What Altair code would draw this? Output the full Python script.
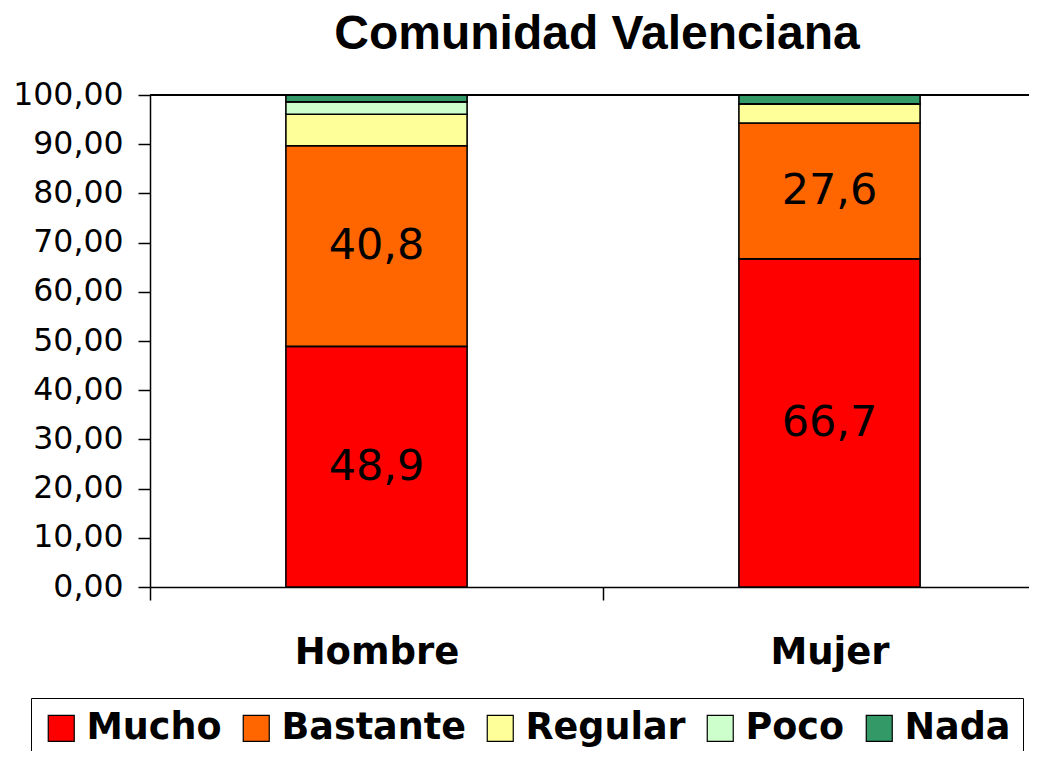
import altair as alt
import pandas as pd

sexo = ["Hombre", "Mujer"]
categorias = ["Mucho", "Bastante", "Regular", "Poco", "Nada"]
colores = ["#FF0000", "#FF6600", "#FFFF99", "#CCFFCC", "#339966"]
mucho = [48.9, 66.7]
bastante = [40.8, 27.6]
regular = [6.4, 3.9]
poco = [2.5, 0.0]
nada = [1.4, 1.8]
etiquetadas = ["Mucho", "Bastante"]
y_ticks = [0, 10, 20, 30, 40, 50, 60, 70, 80, 90, 100]
titulo = "Comunidad Valenciana"

series = [mucho, bastante, regular, poco, nada]
rows = []
for ci, (cat, vals) in enumerate(zip(categorias, series)):
    for si, s in enumerate(sexo):
        rows.append({"sexo": s, "cat": cat, "idx": ci, "value": vals[si]})
df = pd.DataFrame(rows)

xscale = alt.Scale(paddingInner=0, paddingOuter=0, round=False)
x = alt.X("sexo:N", sort=sexo, scale=xscale,
          axis=alt.Axis(title=None, labelAngle=0, tickBand="extent",
                        labelFont="DejaVu Sans", labelFontSize=37, labelFontWeight="bold",
                        labelColor="black", labelPadding=34, tickSize=13,
                        tickColor="black", tickWidth=1.5,
                        domainColor="black", domainWidth=1.5))

base = alt.Chart(df)

bars = base.mark_bar(stroke="black", strokeWidth=1.6,
                     width=alt.RelativeBandSize(0.4)).encode(
    x=x,
    y=alt.Y("value:Q", stack="zero",
            scale=alt.Scale(domain=[0, 100], nice=False),
            axis=alt.Axis(title=None, values=y_ticks, grid=False,
                          labelExpr="replace(format(datum.value, '.2f'), '.', ',')",
                          labelFont="DejaVu Sans", labelFontSize=31.5, labelColor="black",
                          labelPadding=15, tickSize=12, tickColor="black", tickWidth=1.5,
                          domainColor="black", domainWidth=1.5)),
    color=alt.Color("cat:N", sort=categorias,
                    scale=alt.Scale(domain=categorias, range=colores),
                    legend=alt.Legend(title=None, orient="none", direction="horizontal",
                                      legendX=-119, legendY=603,
                                      strokeColor="black", padding=12,
                                      symbolType="square", symbolSize=676,
                                      symbolStrokeColor="black", symbolStrokeWidth=1.2,
                                      labelFont="DejaVu Sans", labelFontWeight="bold",
                                      labelFontSize=36.5, labelColor="black",
                                      labelOffset=7, columnPadding=16, labelLimit=400)),
    order=alt.Order("idx:Q", sort="ascending"),
)

texts = base.transform_stack(
    stack="value", groupby=["sexo"], sort=[alt.SortField("idx", order="ascending")],
    as_=["v0", "v1"]
).transform_filter(
    alt.FieldOneOfPredicate(field="cat", oneOf=etiquetadas)
).transform_calculate(
    mid="(datum.v0 + datum.v1) / 2",
    lab="replace(format(datum.value, '.1f'), '.', ',')"
).mark_text(font="DejaVu Sans", fontSize=43, color="black", baseline="middle").encode(
    x=alt.X("sexo:N", sort=sexo, scale=xscale),
    y=alt.Y("mid:Q"),
    text="lab:N",
)

top_rule = alt.Chart(pd.DataFrame({"y": [100]})).mark_rule(color="black", strokeWidth=2).encode(
    y="y:Q"
)

title_text = alt.Chart(pd.DataFrame({"t": [titulo]})).mark_text(
    font="Liberation Sans", fontSize=48, fontWeight="bold", color="black",
    baseline="alphabetic", align="center"
).encode(x=alt.value(447), y=alt.value(-46), text="t:N")

chart = alt.layer(bars, texts, top_rule, title_text).properties(
    width=906, height=492,
    autosize=alt.AutoSizeParams(type="none"),
    padding={"left": 142, "top": 87, "right": -27, "bottom": 164},
).configure_view(stroke=None).configure(background="white")

chart.save("out.html", embed_options={"renderer": "svg", "actions": False})
